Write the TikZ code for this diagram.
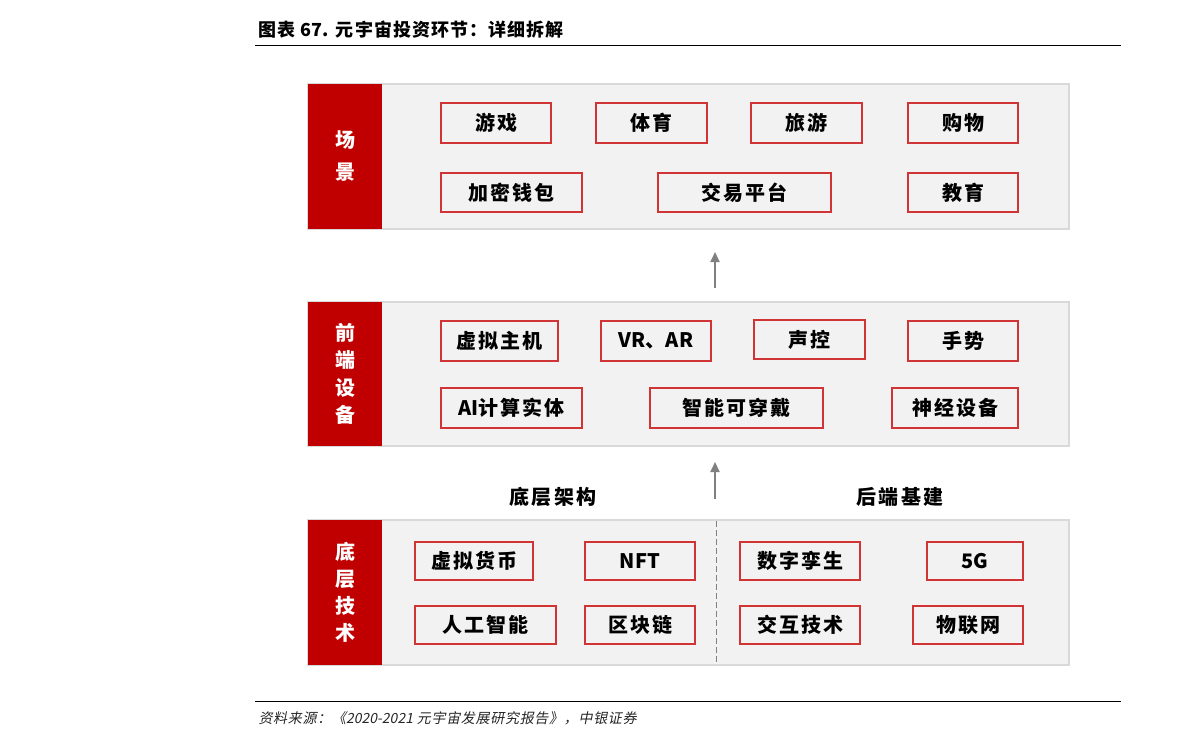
\documentclass[tikz,border=0pt]{standalone}
\usepackage{fontspec}
\setmainfont{Noto Sans CJK SC}
\newfontfamily\cjkslant[FakeSlant=0.2,LetterSpace=5]{Noto Sans CJK SC}
\newfontfamily\cjkslantplain[FakeSlant=0.2]{Noto Sans CJK SC}
\newfontfamily\cjkwide[LetterSpace=10]{Noto Sans CJK SC}
\newfontfamily\cjkwider[LetterSpace=12]{Noto Sans CJK SC}
\newfontfamily\cjktitle[LetterSpace=6]{Noto Sans CJK SC}
\newfontfamily\cjkplain{Noto Sans CJK SC}
\usetikzlibrary{arrows.meta}
\definecolor{sidered}{HTML}{C00000}
\definecolor{boxred}{HTML}{D03434}
\definecolor{panelgray}{HTML}{F2F2F2}
\definecolor{panelline}{HTML}{D9D9D9}
\definecolor{arrowgray}{HTML}{808080}
\begin{document}
\begin{tikzpicture}[x=1pt,y=-1pt,
  panel/.style={draw=panelline, line width=1.5pt, fill=panelgray, inner sep=0pt},
  side/.style={fill=sidered, inner sep=0pt, text=white, font=\fontsize{20}{27.5}\selectfont\bfseries, align=center},
  item/.style={draw=boxred, line width=1.5pt, fill=panelgray, inner sep=0pt, font=\cjkwide\fontsize{20}{22}\selectfont\bfseries},
  itemlat/.style={item, font=\cjkplain\fontsize{20}{22}\selectfont\bfseries},
  uparrow/.style={draw=arrowgray, line width=2pt, -{Triangle[length=10pt,width=9pt]}},
  seclabel/.style={font=\cjkwider\fontsize{20}{22}\selectfont\bfseries}
]
\useasboundingbox (0,0) rectangle (1191,745);
% title
\node[anchor=west, font=\cjktitle\fontsize{18}{20}\selectfont\bfseries] (title) at (255,30) {图表 {\cjkplain 67.} 元宇宙投资环节：详细拆解};
\draw[line width=1pt] (255,45) -- (1121,45);
% footer
\draw[line width=1pt] (255,701) -- (1121,701);
\node[anchor=west, font=\cjkslant\fontsize{14}{16}\selectfont, text=black!85] (src) at (255,718) {资料来源：《{\cjkslantplain 2020-2021} 元宇宙发展研究报告》，中银证券};

% panel 1
\node[panel, minimum width=761, minimum height=145] (p1) at (688.5,156.5) {};
\node[side, minimum width=74, minimum height=145, font=\fontsize{20}{32}\selectfont\bfseries] (s1) at (345,156.5) {场\\景};
\node[item, minimum width=110, minimum height=40] (i11) at (496,123) {游戏};
\node[item, minimum width=111, minimum height=40] (i12) at (651.5,123) {体育};
\node[item, minimum width=111, minimum height=40] (i13) at (806.5,123) {旅游};
\node[item, minimum width=110, minimum height=40] (i14) at (963,123) {购物};
\node[item, minimum width=141, minimum height=39] (i15) at (511.5,192.5) {加密钱包};
\node[item, minimum width=173, minimum height=39] (i16) at (744.5,192.5) {交易平台};
\node[item, minimum width=110, minimum height=39] (i17) at (963,192.5) {教育};

% panel 2
\node[panel, minimum width=761, minimum height=144] (p2) at (688.5,374) {};
\node[side, minimum width=74, minimum height=144] (s2) at (345,374) {前\\端\\设\\备};
\node[item, minimum width=117, minimum height=40] (i21) at (499.5,341) {虚拟主机};
\node[itemlat, minimum width=110, minimum height=40] (i22) at (656,341) {VR、AR};
\node[item, minimum width=111, minimum height=39] (i23) at (809.5,339.5) {声控};
\node[item, minimum width=110, minimum height=40] (i24) at (963,341) {手势};
\node[item, minimum width=141, minimum height=40] (i25) at (511.5,408) {{\cjkplain AI}计算实体};
\node[item, minimum width=173, minimum height=40] (i26) at (736.5,408) {智能可穿戴};
\node[item, minimum width=126, minimum height=40] (i27) at (955,408) {神经设备};

% panel 3
\node[panel, minimum width=761, minimum height=145] (p3) at (688.5,592.5) {};
\node[side, minimum width=74, minimum height=145, font=\fontsize{20}{27}\selectfont\bfseries] (s3) at (345,592.5) {底\\层\\技\\术};
\node[item, minimum width=118, minimum height=38] (i31) at (474,561) {虚拟货币};
\node[itemlat, minimum width=110, minimum height=38] (i32) at (640,561) {NFT};
\node[item, minimum width=141, minimum height=38] (i33) at (485.5,625) {人工智能};
\node[item, minimum width=110, minimum height=38] (i34) at (640,625) {区块链};
\node[item, minimum width=120, minimum height=38] (i35) at (800,561) {数字孪生};
\node[itemlat, minimum width=96, minimum height=38] (i36) at (975,561) {5G};
\node[item, minimum width=120, minimum height=38] (i37) at (800,625) {交互技术};
\node[item, minimum width=110, minimum height=38] (i38) at (968,625) {物联网};
\coordinate (d1) at (716,521);
\coordinate (d2) at (716,663);
\draw[draw=arrowgray, line width=1pt, dash pattern=on 6pt off 3pt] (d1) -- (d2);

\node[seclabel] (l1) at (553,497) {底层架构};
\node[seclabel] (l2) at (900,497) {后端基建};

% arrows
\coordinate (a1s) at (715,288);
\coordinate (a1e) at (715,252);
\draw[uparrow] (a1s) -- (a1e);
\coordinate (a2s) at (715,499);
\coordinate (a2e) at (715,462);
\draw[uparrow] (a2s) -- (a2e);
\end{tikzpicture}
\end{document}
